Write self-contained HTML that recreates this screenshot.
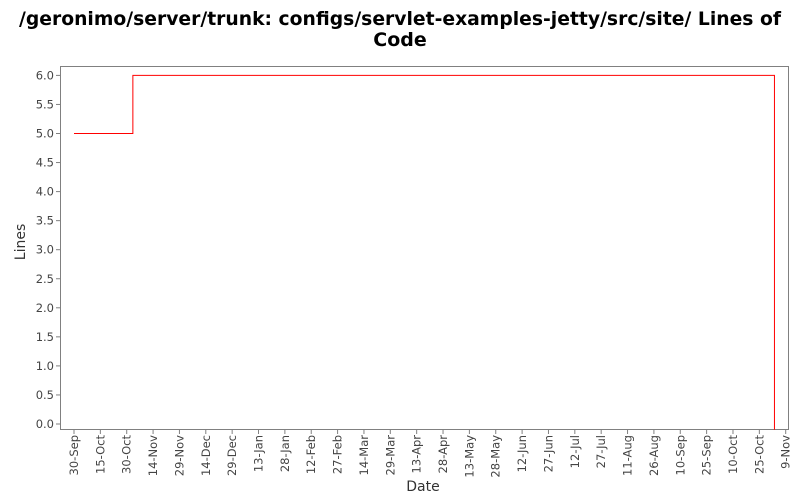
<!DOCTYPE html>
<html><head><meta charset="utf-8"><style>
body{margin:0;background:#fff;width:800px;height:500px;overflow:hidden;font-family:"DejaVu Sans","Liberation Sans",sans-serif}
</style></head><body>
<svg id="chart" width="800" height="500">
<text x="400" y="25" text-anchor="middle" font-size="19" font-weight="bold" fill="#000" textLength="762" lengthAdjust="spacingAndGlyphs">/geronimo/server/trunk: configs/servlet-examples-jetty/src/site/ Lines of</text>
<text x="400" y="46" text-anchor="middle" font-size="19" font-weight="bold" fill="#000">Code</text>
<rect x="60.5" y="66.5" width="728" height="363" fill="#fff" stroke="#808080"/>
<g id="yaxis"></g><g id="xaxis"></g><g id="series"></g>
<text x="423" y="491" text-anchor="middle" font-size="14" fill="#333">Date</text>
<text transform="translate(25,242) rotate(-90)" text-anchor="middle" font-size="14" fill="#333">Lines</text>
</svg>
<script>
const yTicks=[0,0.5,1,1.5,2,2.5,3,3.5,4,4.5,5,5.5,6];
const xTickLabels=["30-Sep","15-Oct","30-Oct","14-Nov","29-Nov","14-Dec","29-Dec","13-Jan","28-Jan","12-Feb","27-Feb","14-Mar","29-Mar","13-Apr","28-Apr","13-May","28-May","12-Jun","27-Jun","12-Jul","27-Jul","11-Aug","26-Aug","10-Sep","25-Sep","10-Oct","25-Oct","9-Nov"];
const dayOffsets=[0,33.5,398.6,398.6];
const lineValues=[5,6,6,-0.1];
const NS="http://www.w3.org/2000/svg";
const X=d=>74+d*(785.7-74)/405;
const Y=v=>424-v*58.1;
function mk(t,a,p){const e=document.createElementNS(NS,t);for(const k in a)e.setAttribute(k,a[k]);p.appendChild(e);return e;}
const ya=document.getElementById('yaxis');
yTicks.forEach(v=>{
  const l=mk('line',{x1:56,x2:60,y1:Y(v),y2:Y(v),stroke:'#808080'},ya);
  
  
  const t=mk('text',{x:54,y:Y(v)+4,'text-anchor':'end','font-size':11.5,fill:'#444'},ya);
  t.textContent=v.toFixed(1);
  
  
});
const xa=document.getElementById('xaxis');
xTickLabels.forEach((s,i)=>{
  const x=X(i*15);
  const l=mk('line',{x1:x,x2:x,y1:430,y2:434,stroke:'#808080'},xa);
  
  
  const t=mk('text',{transform:`translate(${x+4},435) rotate(-90)`,'text-anchor':'end','font-size':11.5,fill:'#444'},xa);
  t.textContent=s;
  
  
});
let d='';
dayOffsets.forEach((o,i)=>{
  if(i===0)d+=`M${X(o)},${Y(lineValues[i])}`;
  else d+=`H${X(o)}V${Y(lineValues[i])}`;
});
const p=mk('path',{d:d,fill:'none',stroke:'#ff0000','stroke-width':1},document.getElementById('series'));


</script>
</body></html>
